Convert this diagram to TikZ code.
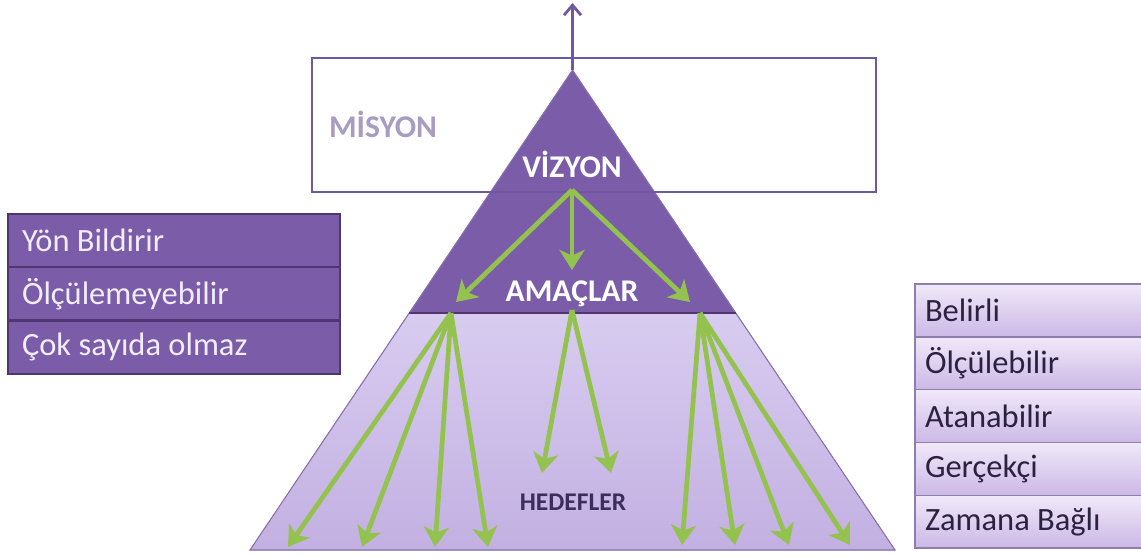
\documentclass[tikz,border=0pt]{standalone}
\usepackage{fontspec}
\setmainfont{Carlito}
\usetikzlibrary{arrows.meta}

\definecolor{koyumor}{HTML}{7A5CA8}
\definecolor{acikust}{HTML}{D8CCF0}
\definecolor{acikalt}{HTML}{C3B0E2}
\definecolor{kenar}{HTML}{8572AD}
\definecolor{misyoncizgi}{HTML}{6E58A2}
\definecolor{misyonyazi}{HTML}{A99CC2}
\definecolor{yesil}{HTML}{93C24F}
\definecolor{solcizgi}{HTML}{4F3670}
\definecolor{solyazi}{HTML}{F3ECFB}
\definecolor{sagust}{HTML}{F0E9F9}
\definecolor{sagalt}{HTML}{CCB8E6}
\definecolor{sagcizgi}{HTML}{8E7EAD}
\definecolor{sagyazi}{HTML}{2B2140}
\definecolor{hedefyazi}{HTML}{3B2D5C}

\begin{document}
\begin{tikzpicture}[x=0.02cm,y=-0.02cm,
  yazi/.style={font=\fontsize{18.5}{20}\selectfont},
  solkutu/.style={draw=solcizgi,line width=1.2pt,fill=koyumor,text=solyazi,
    minimum width=6.64cm,minimum height=1.066cm,text width=6.08cm,
    inner xsep=0.28cm,align=left,yazi},
  sagkutu/.style={draw=sagcizgi,line width=0.8pt,top color=sagust,bottom color=sagalt,
    text=sagyazi,minimum width=4.7cm,minimum height=1.056cm,text width=4.3cm,
    inner xsep=0.2cm,align=left,yazi},
  baslik/.style={font=\bfseries\fontsize{18}{20}\selectfont,text=white},
  okgr/.style={yesil,line width=2.7pt,-{Stealth[length=0.4cm,width=0.5cm,inset=0.11cm]}}
  ]
  \useasboundingbox (0,0) rectangle (1141,556);

  % piramit
  \coordinate (tepe) at (572.5,70);
  \coordinate (solalt) at (250,550);
  \coordinate (sagalt) at (895,550);
  \coordinate (solorta) at (409,313);
  \coordinate (sagorta) at (736,313);
  \fill[top color=acikust,bottom color=acikalt] (solorta) -- (sagorta) -- (sagalt) -- (solalt) -- cycle;
  \fill[koyumor] (tepe) -- (sagorta) -- (solorta) -- cycle;
  \draw[kenar,line width=0.6pt] (tepe) -- (solalt) -- (sagalt) -- cycle;
  \draw[solcizgi,line width=0.8pt] (solorta) -- (sagorta);

  % misyon
  \node[draw=misyoncizgi,line width=1.4pt,minimum width=11.28cm,minimum height=2.68cm] (misyonkutu) at (594,125) {};
  \coordinate (yukari) at (572.5,3);
  \draw[misyoncizgi,line width=1.6pt,-{Straight Barb[length=0.2cm,width=0.34cm]}] (tepe) -- (yukari);
  \node[font=\bfseries\fontsize{18}{20}\selectfont,text=misyonyazi] (misyon) at (383,124) {MİSYON};

  \node[baslik] (vizyon) at (572,164) {VİZYON};
  \node[baslik] (amaclar) at (572,294) {AMAÇLAR};
  \node[font=\bfseries\fontsize{14.5}{16}\selectfont,text=hedefyazi] (hedefler) at (573,502) {HEDEFLER};

  % oklar
  \coordinate (vkok) at (572,190);
  \foreach \x/\y [count=\i] in {456/302,572/270,690/302} {
    \coordinate (amac\i) at (\x,\y);
    \draw[okgr] (vkok) -- (amac\i);
  }
  \coordinate (kok1) at (451,313);
  \coordinate (kok2) at (572,310);
  \coordinate (kok3) at (700,313);
  \foreach \x in {288,362,435,488} {
    \coordinate (hs\x) at (\x,547);
    \draw[okgr] (kok1) -- (hs\x);
  }
  \foreach \x in {542,611} {
    \coordinate (hm\x) at (\x,473);
    \draw[okgr] (kok2) -- (hm\x);
  }
  \foreach \x in {682,735,789,850} {
    \coordinate (hg\x) at (\x,545);
    \draw[okgr] (kok3) -- (hg\x);
  }

  % yan kutular
  \foreach \metin [count=\i] in {Yön Bildirir,Ölçülemeyebilir,Çok sayıda olmaz}
    \node[solkutu] (sol\i) at (174,{240.5+53.3*(\i-1)}) {\spaceskip=0pt\xspaceskip=0pt\relax\metin};
  \foreach \metin [count=\i] in {Belirli,Ölçülebilir,Atanabilir,Gerçekçi,Zamana Bağlı}
    \node[sagkutu] (sag\i) at (1032.5,{310.4+52.8*(\i-1)}) {\spaceskip=0pt\xspaceskip=0pt\relax\metin};
\end{tikzpicture}
\end{document}
